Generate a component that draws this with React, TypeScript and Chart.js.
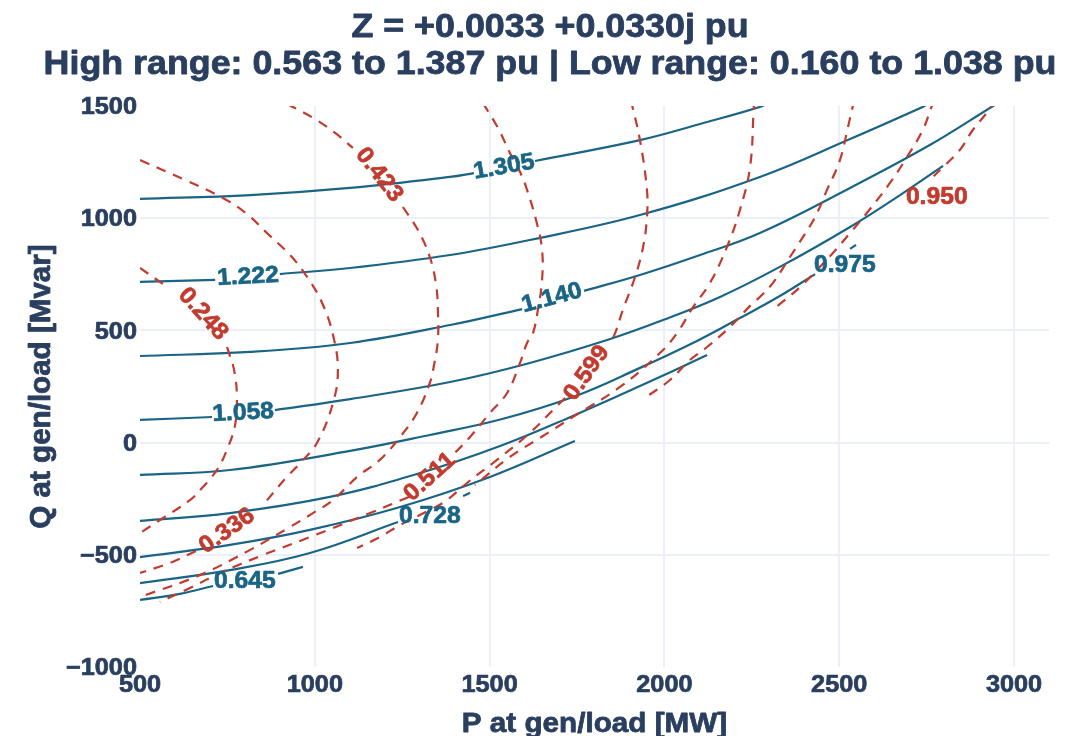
import React, { useEffect, useRef } from "react";
import { Chart, registerables } from "chart.js";

Chart.register(...registerables);

type Pt = [number, number] | null;

const FONT = '"Liberation Sans", Arial, Helvetica, sans-serif';
const TEXT_COLOR = "#2a3f5f";
const BLUE = "#1a6586";
const RED = "#c23b2e";
const GRID = "#EBF0F8";

const TITLE_LINES = [
  "Z = +0.0033 +0.0330j pu",
  "High range: 0.563 to 1.387 pu | Low range: 0.160 to 1.038 pu",
];
const X_LABEL = "P at gen/load [MW]";
const Y_LABEL = "Q at gen/load [Mvar]";

const xTickValues = [500, 1000, 1500, 2000, 2500, 3000];
const yTickValues = [-1000, -500, 0, 500, 1000, 1500];
const xRange = [500, 3100];
const yRange = [-1000, 1500];

// ---- High-range contours (solid), [P MW, Q Mvar]; null = gap under a label
const high1305: Pt[] = [[500, 1086], [815, 1103], [1101, 1135], [1387, 1184], [1455, 1201], null, [1630, 1255], [1930, 1348], [2102, 1420], [2273, 1496], [2302, 1518]];
const high1222: Pt[] = [[500, 716], [715, 725], null, [900, 751], [1101, 778], [1387, 836], [1615, 903], [1930, 1014], [2273, 1184], [2531, 1353], [2739, 1496], [2754, 1509]];
const high1140: Pt[] = [[500, 386], [815, 404], [1101, 444], [1387, 524], [1593, 595], null, [1770, 676], [1930, 747], [2102, 836], [2273, 934], [2531, 1135], [2759, 1326], [2940, 1500], [2954, 1513]];
const high1058: Pt[] = [[500, 101], [706, 114], null, [886, 145], [1101, 194], [1387, 270], [1615, 355], [1836, 457], [1996, 546], [2159, 649], [2330, 783], [2531, 961], [2674, 1103], [2797, 1233]];
const high0975: Pt[] = [[500, -144], [757, -122], [1101, -37], [1329, 34], [1536, 105], [1738, 203], [1930, 333], [2093, 453], [2216, 555], [2330, 653], [2431, 751], null, [2531, 863], [2548, 881]];
const high0893: Pt[] = [[500, -349], [757, -314], [1043, -242], [1292, -140], [1530, -15], [1738, 119], [1930, 252], [2122, 390]];
const high0810: Pt[] = [[500, -510], [757, -456], [986, -389], [1244, -287], [1501, -153], [1744, 7]];
const high0728: Pt[] = [[500, -626], [757, -568], [986, -492], [1238, -354], null, [1424, -238], [1444, -224]];
const high0645: Pt[] = [[500, -701], [614, -674], [709, -639], null, [895, -585], [966, -554]];

// ---- Low-range contours (dashed)
const low0248: Pt[] = [[500, 778], [574, 698], null, [749, 426], [769, 324], [777, 212], [772, 79], [746, -42], [720, -122], [680, -198], [643, -256], [557, -345], [500, -403]];
const low0336: Pt[] = [[500, 1259], [629, 1170], [737, 1090], [806, 1019], [863, 934], [929, 836], [978, 738], [1021, 622], [1052, 480], [1066, 324], [1052, 177], [1006, -2], [958, -91], [920, -153], [852, -278], null, [660, -483], [586, -536], [500, -581]];
const low0423: Pt[] = [[921, 1509], [995, 1447], [1058, 1380], [1109, 1313], null, [1252, 1050], [1295, 947], [1329, 827], [1347, 702], [1352, 591], [1352, 457], [1341, 346], [1329, 266], [1292, 132], [1244, 25], [1186, -77], [1121, -153], [1052, -256], [995, -314], [929, -376], [815, -478], [672, -590], [500, -688]];
const low0511: Pt[] = [[1481, 1513], [1524, 1402], [1558, 1291], [1587, 1206], [1607, 1126], [1635, 979], [1650, 858], [1650, 725], [1638, 591], [1624, 488], [1607, 444], [1587, 355], [1550, 221], [1501, 132], [1444, 25], [1392, -60], null, [1269, -242], [1158, -314], [986, -421], [852, -501], [729, -581], [643, -648], [557, -710]];
const low0599: Pt[] = [[1904, 1527], [1930, 1348], [1950, 1126], [1950, 1005], [1939, 872], [1916, 738], [1881, 591], [1859, 488], [1844, 444], null, [1716, 199], [1681, 145], [1615, 43], [1521, -77], [1435, -180], [1378, -256], [1329, -300], [1244, -367], [1186, -421], [1121, -470]];
const low0687: Pt[] = [[2259, 1527], [2256, 1500], [2245, 1228], [2216, 1037], [2179, 872], [2130, 711], [2082, 604], [2036, 488], [1987, 399], [1873, 248], [1738, 114], [1644, 21], [1558, -64], [1458, -189]];
const low0774: Pt[] = [[2545, 1527], [2539, 1500], [2525, 1406], [2502, 1259], [2465, 1126], [2431, 1005], [2396, 916], [2359, 827], [2310, 711], [2273, 649], [2253, 622], [2187, 515], [2122, 426], [2073, 368], [2016, 279], [1944, 199]];
const low0862: Pt[] = [[2774, 1527], [2765, 1500], [2739, 1393], [2694, 1273], [2645, 1157], [2579, 1023], [2531, 934], [2482, 845], [2436, 769], [2388, 693], [2345, 636], [2308, 591]];
const low0950: Pt[] = [[2952, 1527], [2922, 1469], [2882, 1393], [2845, 1304], [2797, 1228], [2765, 1179]];

const highContours = [high1305, high1222, high1140, high1058, high0975, high0893, high0810, high0728, high0645];
const lowContours = [low0248, low0336, low0423, low0511, low0599, low0687, low0774, low0862, low0950];

// ---- Contour labels
const highLabelText = ["1.305", "1.222", "1.140", "1.058", "0.975", "0.728", "0.645"];
const highLabelP = [1541, 809, 1678, 795, 2516, 1329, 800];
const highLabelQ = [1228, 738, 644, 132, 787, -331, -621];
const highLabelAngle = [-10, -3, -15, -3, 0, 0, 0];

const lowLabelText = ["0.248", "0.423", "0.336", "0.511", "0.599", "0.950"];
const lowLabelP = [680, 1184, 749, 1329, 1778, 2779];
const lowLabelQ = [573, 1193, -394, -153, 310, 1094];
const lowLabelAngle = [48, 52, -35, -42, -55, 0];

function segments(path: Pt[]) {
  const out: { x: number; y: number }[][] = [];
  let cur: { x: number; y: number }[] = [];
  for (const p of path) {
    if (p === null) {
      if (cur.length) out.push(cur);
      cur = [];
    } else cur.push({ x: p[0], y: p[1] });
  }
  if (cur.length) out.push(cur);
  return out;
}

type TextOpts = {
  size: number;
  stretch: number;
  color: string;
  align: CanvasTextAlign;
  baseline: CanvasTextBaseline;
  rotation?: number;
  stroke?: number;
};

function drawText(ctx: CanvasRenderingContext2D, text: string, x: number, y: number, o: TextOpts) {
  ctx.save();
  ctx.translate(x, y);
  if (o.rotation) ctx.rotate(o.rotation);
  ctx.scale(o.stretch, 1);
  ctx.font = `bold ${o.size}px ${FONT}`;
  ctx.textAlign = o.align;
  ctx.textBaseline = o.baseline;
  ctx.fillStyle = o.color;
  ctx.fillText(text, 0, 0);
  if (o.stroke) {
    ctx.lineWidth = o.stroke;
    ctx.lineJoin = "round";
    ctx.strokeStyle = o.color;
    ctx.strokeText(text, 0, 0);
  }
  ctx.restore();
}

const labelPlugin = {
  id: "contourLabels",
  afterDatasetsDraw(chart: any) {
    const { ctx, scales } = chart;
    const xs = scales.x;
    const ys = scales.y;
    const draw = (t: string[], P: number[], Q: number[], A: number[], color: string) => {
      for (let i = 0; i < t.length; i++) {
        drawText(ctx, t[i], xs.getPixelForValue(P[i]), ys.getPixelForValue(Q[i]), {
          size: 23.5,
          stretch: 1.05,
          color,
          align: "center",
          baseline: "middle",
          rotation: (A[i] * Math.PI) / 180,
          stroke: 0.7,
        });
      }
    };
    draw(highLabelText, highLabelP, highLabelQ, highLabelAngle, BLUE);
    draw(lowLabelText, lowLabelP, lowLabelQ, lowLabelAngle, RED);
  },
};

const textPlugin = {
  id: "axisAndTitleText",
  afterDraw(chart: any) {
    const { ctx, scales, chartArea } = chart;
    const xs = scales.x;
    const ys = scales.y;
    const titleOpts: TextOpts = { size: 33, stretch: 1.085, color: TEXT_COLOR, align: "center", baseline: "alphabetic", stroke: 0.8 };
    drawText(ctx, TITLE_LINES[0], 550, 37, titleOpts);
    drawText(ctx, TITLE_LINES[1], 550, 74, titleOpts);
    const tickOpts: TextOpts = { size: 23, stretch: 1.1, color: TEXT_COLOR, align: "center", baseline: "alphabetic", stroke: 0.7 };
    xTickValues.forEach((v) => {
      drawText(ctx, String(v), xs.getPixelForValue(v), chartArea.bottom + 25, tickOpts);
    });
    yTickValues.forEach((v) => {
      const txt = v < 0 ? "\u2212" + Math.abs(v) : String(v);
      drawText(ctx, txt, chartArea.left - 3, ys.getPixelForValue(v) + 8.2, { ...tickOpts, align: "right" });
    });
    drawText(ctx, X_LABEL, (chartArea.left + chartArea.right) / 2, 732, {
      size: 28,
      stretch: 1.06,
      color: TEXT_COLOR,
      align: "center",
      baseline: "alphabetic",
      stroke: 0.8,
    });
    drawText(ctx, Y_LABEL, 50, (chartArea.top + chartArea.bottom) / 2, {
      size: 29,
      stretch: 1.02,
      color: TEXT_COLOR,
      align: "center",
      baseline: "alphabetic",
      rotation: -Math.PI / 2,
      stroke: 0.8,
    });
  },
};

export default function App() {
  const ref = useRef<HTMLCanvasElement | null>(null);

  useEffect(() => {
    if (!ref.current) return;
    const datasets: any[] = [];
    lowContours.forEach((c) =>
      segments(c).forEach((seg) =>
        datasets.push({
          data: seg,
          showLine: true,
          borderColor: RED,
          borderWidth: 2.2,
          borderDash: [10, 8],
          pointRadius: 0,
          tension: 0.4,
          fill: false,
        })
      )
    );
    highContours.forEach((c) =>
      segments(c).forEach((seg) =>
        datasets.push({
          data: seg,
          showLine: true,
          borderColor: BLUE,
          borderWidth: 2.2,
          pointRadius: 0,
          tension: 0.4,
          fill: false,
        })
      )
    );

    const chart = new Chart(ref.current, {
      type: "scatter",
      data: { datasets },
      plugins: [labelPlugin, textPlugin],
      options: {
        responsive: false,
        animation: false,
        devicePixelRatio: 1,
        layout: { padding: { left: 0, right: 33, top: 106, bottom: 0 } },
        plugins: {
          legend: { display: false },
          tooltip: { enabled: false },
          title: { display: false },
        },
        elements: { point: { radius: 0 } },
        scales: {
          x: {
            type: "linear",
            min: xRange[0],
            max: xRange[1],
            afterBuildTicks: (s: any) => {
              s.ticks = xTickValues.map((v) => ({ value: v }));
            },
            afterFit: (s: any) => {
              s.height = 69;
            },
            border: { display: false },
            grid: {
              drawTicks: false,
              lineWidth: 2,
              color: (c: any) => (c.tick && c.tick.value === xRange[0] ? "rgba(0,0,0,0)" : GRID),
            },
            ticks: { display: false },
            title: { display: false },
          },
          y: {
            type: "linear",
            min: yRange[0],
            max: yRange[1],
            afterBuildTicks: (s: any) => {
              s.ticks = yTickValues.map((v) => ({ value: v }));
            },
            afterFit: (s: any) => {
              s.width = 140;
            },
            border: { display: false },
            grid: {
              drawTicks: false,
              lineWidth: 2,
              color: (c: any) =>
                c.tick && (c.tick.value === yRange[0] || c.tick.value === yRange[1]) ? "rgba(0,0,0,0)" : GRID,
            },
            ticks: { display: false },
            title: { display: false },
          },
        },
      } as any,
    });
    return () => chart.destroy();
  }, []);

  return (
    <div style={{ position: "fixed", left: 0, top: 0, width: 1082, height: 736, background: "#fff" }}>
      <canvas ref={ref} width={1082} height={736} style={{ display: "block", width: 1082, height: 736 }} />
    </div>
  );
}
